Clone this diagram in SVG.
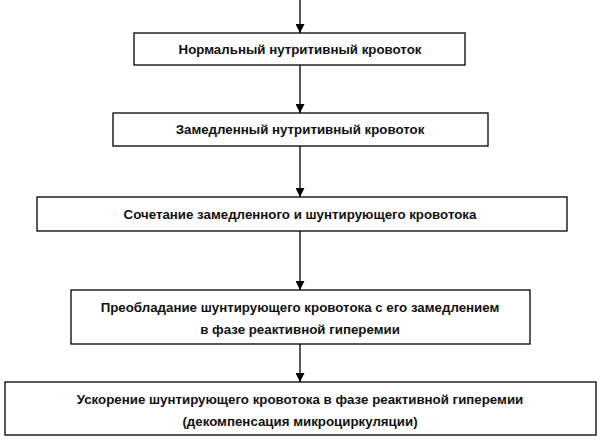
<svg xmlns="http://www.w3.org/2000/svg" width="600" height="442" viewBox="0 0 600 442">
<style>
rect{fill:#fff;stroke:#000;stroke-width:1.3}
text{font-family:"Liberation Sans",Arial,sans-serif;font-weight:bold;font-size:13.3px;text-anchor:middle;fill:#111}
line{stroke:#000;stroke-width:1.3;marker-end:url(#a)}
</style>
<defs><marker id="a" viewBox="0 0 10 10" refX="10" refY="5" markerWidth="9" markerHeight="9" markerUnits="userSpaceOnUse" orient="auto"><path d="M0,0L10,5L0,10z"/></marker></defs>
<rect width="600" height="442" style="stroke:none"/>
<g id="connectors">
<line x1="300" y1="0" x2="300" y2="33"/>
<line x1="300" y1="65" x2="300" y2="113"/>
<line x1="300" y1="146" x2="300" y2="197"/>
<line x1="300" y1="231" x2="300" y2="290"/>
<line x1="300" y1="344" x2="300" y2="382"/>
</g>
<g id="n1"><rect x="134" y="33" width="331" height="32"/><text x="300" y="54">Нормальный нутритивный кровоток</text></g>
<g id="n2"><rect x="113" y="113" width="375" height="33"/><text x="300" y="134">Замедленный нутритивный кровоток</text></g>
<g id="n3"><rect x="37" y="197" width="530" height="34"/><text x="300" y="219">Сочетание замедленного и шунтирующего кровотока</text></g>
<g id="n4"><rect x="71" y="290" width="459" height="54"/><text x="300" y="312">Преобладание шунтирующего кровотока с его замедлением</text><text x="300" y="334">в фазе реактивной гиперемии</text></g>
<g id="n5"><rect x="5" y="382" width="591" height="53"/><text x="300" y="404">Ускорение шунтирующего  кровотока в фазе реактивной гиперемии</text><text x="300" y="426">(декомпенсация микроциркуляции)</text></g>
</svg>
